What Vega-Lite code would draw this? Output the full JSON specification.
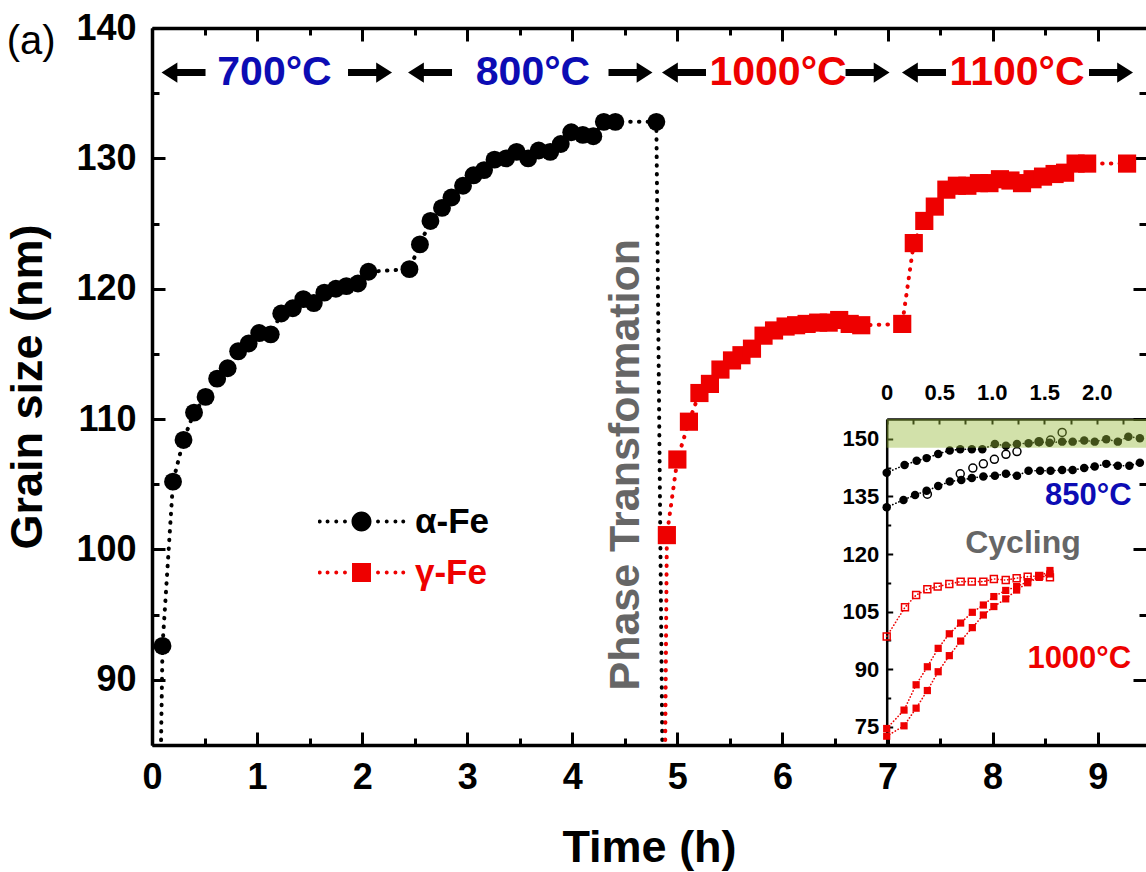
{
 "$schema": "https://vega.github.io/schema/vega-lite/v6.json",
 "width": 994, "height": 717,
 "autosize": "none",
 "padding": {"left": 152, "top": 28, "right": 0, "bottom": 127},
 "background": "white",
 "config": {
  "font": "Liberation Sans",
  "view": {"stroke": null},
  "axis": {"domainColor": "#000", "tickColor": "#000", "labelColor": "#000", "titleColor": "#000", "domainWidth": 3.5, "tickWidth": 3, "labelFont": "Liberation Sans", "labelFontWeight": "bold", "titleFont": "Liberation Sans", "titleFontWeight": "bold", "grid": false, "zindex": 1, "labelFlush": false, "labelOverlap": false, "labelBound": false}
 },
 "datasets": {
  "alpha": [
   {"time_h": 0.00, "size_nm": 40},
   {"time_h": 0.10, "size_nm": 92.6}, {"time_h": 0.20, "size_nm": 105.2}, {"time_h": 0.30, "size_nm": 108.4}, {"time_h": 0.40, "size_nm": 110.5},
   {"time_h": 0.51, "size_nm": 111.7}, {"time_h": 0.62, "size_nm": 113.1}, {"time_h": 0.72, "size_nm": 113.9}, {"time_h": 0.82, "size_nm": 115.2},
   {"time_h": 0.92, "size_nm": 115.8}, {"time_h": 1.02, "size_nm": 116.6}, {"time_h": 1.13, "size_nm": 116.5}, {"time_h": 1.23, "size_nm": 118.1},
   {"time_h": 1.34, "size_nm": 118.5}, {"time_h": 1.44, "size_nm": 119.2}, {"time_h": 1.54, "size_nm": 118.9}, {"time_h": 1.64, "size_nm": 119.7},
   {"time_h": 1.75, "size_nm": 120.0}, {"time_h": 1.85, "size_nm": 120.2}, {"time_h": 1.96, "size_nm": 120.4}, {"time_h": 2.06, "size_nm": 121.3},
   {"time_h": 2.45, "size_nm": 121.5}, {"time_h": 2.55, "size_nm": 123.4}, {"time_h": 2.65, "size_nm": 125.2}, {"time_h": 2.76, "size_nm": 126.2},
   {"time_h": 2.85, "size_nm": 127.0}, {"time_h": 2.96, "size_nm": 127.9}, {"time_h": 3.06, "size_nm": 128.7}, {"time_h": 3.16, "size_nm": 129.1},
   {"time_h": 3.26, "size_nm": 129.9}, {"time_h": 3.37, "size_nm": 130.0}, {"time_h": 3.47, "size_nm": 130.5}, {"time_h": 3.58, "size_nm": 130.0},
   {"time_h": 3.68, "size_nm": 130.6}, {"time_h": 3.79, "size_nm": 130.5}, {"time_h": 3.89, "size_nm": 131.1}, {"time_h": 3.99, "size_nm": 132.0},
   {"time_h": 4.10, "size_nm": 131.8}, {"time_h": 4.20, "size_nm": 131.7}, {"time_h": 4.30, "size_nm": 132.8}, {"time_h": 4.41, "size_nm": 132.8},
   {"time_h": 4.80, "size_nm": 132.8},
   {"time_h": 4.91, "size_nm": 40}
  ],
  "gamma": [
   {"time_h": 4.84, "size_nm": 40},
   {"time_h": 4.90, "size_nm": 101.1}, {"time_h": 5.00, "size_nm": 106.9}, {"time_h": 5.11, "size_nm": 109.8}, {"time_h": 5.21, "size_nm": 112.0},
   {"time_h": 5.31, "size_nm": 112.7}, {"time_h": 5.41, "size_nm": 113.8}, {"time_h": 5.52, "size_nm": 114.5}, {"time_h": 5.61, "size_nm": 114.9},
   {"time_h": 5.71, "size_nm": 115.4}, {"time_h": 5.82, "size_nm": 116.4}, {"time_h": 5.92, "size_nm": 116.8}, {"time_h": 6.03, "size_nm": 117.1},
   {"time_h": 6.13, "size_nm": 117.2}, {"time_h": 6.23, "size_nm": 117.3}, {"time_h": 6.34, "size_nm": 117.4}, {"time_h": 6.44, "size_nm": 117.4},
   {"time_h": 6.54, "size_nm": 117.6}, {"time_h": 6.64, "size_nm": 117.3}, {"time_h": 6.75, "size_nm": 117.2}, {"time_h": 7.14, "size_nm": 117.3},
   {"time_h": 7.25, "size_nm": 123.5}, {"time_h": 7.35, "size_nm": 125.2}, {"time_h": 7.45, "size_nm": 126.3}, {"time_h": 7.56, "size_nm": 127.6},
   {"time_h": 7.66, "size_nm": 127.9}, {"time_h": 7.76, "size_nm": 127.9}, {"time_h": 7.87, "size_nm": 128.1}, {"time_h": 7.97, "size_nm": 128.1},
   {"time_h": 8.07, "size_nm": 128.4}, {"time_h": 8.17, "size_nm": 128.3}, {"time_h": 8.28, "size_nm": 128.1}, {"time_h": 8.38, "size_nm": 128.4},
   {"time_h": 8.48, "size_nm": 128.6}, {"time_h": 8.59, "size_nm": 128.8}, {"time_h": 8.69, "size_nm": 128.9}, {"time_h": 8.79, "size_nm": 129.6},
   {"time_h": 8.90, "size_nm": 129.6}, {"time_h": 9.28, "size_nm": 129.6}
  ],
  "temps": [
   {"label": "700°C", "phase": "alpha", "time_h": 1.166, "size_nm": 136.55},
   {"label": "800°C", "phase": "alpha", "time_h": 3.626, "size_nm": 136.55},
   {"label": "1000°C", "phase": "gamma", "time_h": 5.958, "size_nm": 136.55},
   {"label": "1100°C", "phase": "gamma", "time_h": 8.233, "size_nm": 136.55}
  ],
  "arrows": [
   {"direction": "left", "time_h": 0.30, "size_nm": 136.58}, {"direction": "right", "time_h": 2.075, "size_nm": 136.58},
   {"direction": "left", "time_h": 2.646, "size_nm": 136.58}, {"direction": "right", "time_h": 4.554, "size_nm": 136.58},
   {"direction": "left", "time_h": 5.063, "size_nm": 136.58}, {"direction": "right", "time_h": 6.81, "size_nm": 136.58},
   {"direction": "left", "time_h": 7.347, "size_nm": 136.58}, {"direction": "right", "time_h": 9.127, "size_nm": 136.58}
  ],
  "notes": [
   {"label": "Phase Transformation", "kind": "phase", "time_h": 4.51, "size_nm": 106.5},
   {"label": "(a)", "kind": "panel", "time_h": -1.15, "size_nm": 138.9}
  ],
  "inset": [
   {"series": "a1", "time_h": 0, "size_nm": 141.2}, {"series": "a1", "time_h": 0.17, "size_nm": 143.2}, {"series": "a1", "time_h": 0.285, "size_nm": 144.3},
   {"series": "a1", "time_h": 0.38, "size_nm": 145.0}, {"series": "a1", "time_h": 0.49, "size_nm": 146.1}, {"series": "a1", "time_h": 0.60, "size_nm": 147.0},
   {"series": "a1", "time_h": 0.70, "size_nm": 147.3}, {"series": "a1", "time_h": 0.81, "size_nm": 147.3}, {"series": "a1", "time_h": 0.91, "size_nm": 147.3},
   {"series": "a1", "time_h": 1.03, "size_nm": 148.7}, {"series": "a1", "time_h": 1.135, "size_nm": 148.2}, {"series": "a1", "time_h": 1.24, "size_nm": 148.7},
   {"series": "a1", "time_h": 1.35, "size_nm": 148.9}, {"series": "a1", "time_h": 1.45, "size_nm": 149.2}, {"series": "a1", "time_h": 1.55, "size_nm": 149.0},
   {"series": "a1", "time_h": 1.67, "size_nm": 149.3}, {"series": "a1", "time_h": 1.77, "size_nm": 149.3}, {"series": "a1", "time_h": 1.88, "size_nm": 149.6},
   {"series": "a1", "time_h": 1.98, "size_nm": 149.3}, {"series": "a1", "time_h": 2.09, "size_nm": 149.9}, {"series": "a1", "time_h": 2.20, "size_nm": 149.3},
   {"series": "a1", "time_h": 2.30, "size_nm": 150.6}, {"series": "a1", "time_h": 2.41, "size_nm": 150.2},
   {"series": "a2", "time_h": 0, "size_nm": 132.2}, {"series": "a2", "time_h": 0.16, "size_nm": 134.1}, {"series": "a2", "time_h": 0.27, "size_nm": 135.4},
   {"series": "a2", "time_h": 0.38, "size_nm": 136.5}, {"series": "a2", "time_h": 0.49, "size_nm": 137.7}, {"series": "a2", "time_h": 0.60, "size_nm": 138.9},
   {"series": "a2", "time_h": 0.71, "size_nm": 139.3}, {"series": "a2", "time_h": 0.81, "size_nm": 139.8}, {"series": "a2", "time_h": 0.92, "size_nm": 140.2},
   {"series": "a2", "time_h": 1.03, "size_nm": 140.4}, {"series": "a2", "time_h": 1.135, "size_nm": 140.9}, {"series": "a2", "time_h": 1.24, "size_nm": 140.4},
   {"series": "a2", "time_h": 1.35, "size_nm": 141.7}, {"series": "a2", "time_h": 1.46, "size_nm": 141.7}, {"series": "a2", "time_h": 1.56, "size_nm": 141.7},
   {"series": "a2", "time_h": 1.67, "size_nm": 141.9}, {"series": "a2", "time_h": 1.77, "size_nm": 141.9}, {"series": "a2", "time_h": 1.88, "size_nm": 142.4},
   {"series": "a2", "time_h": 1.98, "size_nm": 142.8}, {"series": "a2", "time_h": 2.09, "size_nm": 143.5}, {"series": "a2", "time_h": 2.20, "size_nm": 143.0},
   {"series": "a2", "time_h": 2.31, "size_nm": 143.0}, {"series": "a2", "time_h": 2.41, "size_nm": 143.8},
   {"series": "ao", "time_h": 0.387, "size_nm": 135.6}, {"series": "ao", "time_h": 0.70, "size_nm": 140.9}, {"series": "ao", "time_h": 0.82, "size_nm": 142.4},
   {"series": "ao", "time_h": 0.92, "size_nm": 143.5}, {"series": "ao", "time_h": 1.025, "size_nm": 144.7}, {"series": "ao", "time_h": 1.135, "size_nm": 146.0},
   {"series": "ao", "time_h": 1.24, "size_nm": 146.7}, {"series": "ao", "time_h": 1.45, "size_nm": 149.3}, {"series": "ao", "time_h": 1.56, "size_nm": 149.7},
   {"series": "ao", "time_h": 1.67, "size_nm": 151.7},
   {"series": "go", "time_h": 0, "size_nm": 98.5}, {"series": "go", "time_h": 0.174, "size_nm": 106.1}, {"series": "go", "time_h": 0.28, "size_nm": 109.3},
   {"series": "go", "time_h": 0.387, "size_nm": 110.8}, {"series": "go", "time_h": 0.485, "size_nm": 111.5}, {"series": "go", "time_h": 0.596, "size_nm": 112.2},
   {"series": "go", "time_h": 0.704, "size_nm": 112.8}, {"series": "go", "time_h": 0.81, "size_nm": 112.8}, {"series": "go", "time_h": 0.92, "size_nm": 112.8},
   {"series": "go", "time_h": 1.02, "size_nm": 113.5}, {"series": "go", "time_h": 1.133, "size_nm": 113.2}, {"series": "go", "time_h": 1.237, "size_nm": 113.7},
   {"series": "go", "time_h": 1.342, "size_nm": 114.1}, {"series": "go", "time_h": 1.452, "size_nm": 114.3}, {"series": "go", "time_h": 1.554, "size_nm": 113.9},
   {"series": "g1", "time_h": 0, "size_nm": 74.5}, {"series": "g1", "time_h": 0.165, "size_nm": 79.3}, {"series": "g1", "time_h": 0.28, "size_nm": 85.9},
   {"series": "g1", "time_h": 0.387, "size_nm": 90.6}, {"series": "g1", "time_h": 0.49, "size_nm": 95.4}, {"series": "g1", "time_h": 0.596, "size_nm": 99.2},
   {"series": "g1", "time_h": 0.704, "size_nm": 102.0}, {"series": "g1", "time_h": 0.815, "size_nm": 104.8}, {"series": "g1", "time_h": 0.92, "size_nm": 106.7},
   {"series": "g1", "time_h": 1.02, "size_nm": 108.9}, {"series": "g1", "time_h": 1.133, "size_nm": 110.5}, {"series": "g1", "time_h": 1.237, "size_nm": 111.5},
   {"series": "g1", "time_h": 1.342, "size_nm": 112.8}, {"series": "g1", "time_h": 1.452, "size_nm": 114.1}, {"series": "g1", "time_h": 1.554, "size_nm": 115.7},
   {"series": "g2", "time_h": 0, "size_nm": 72.5}, {"series": "g2", "time_h": 0.165, "size_nm": 75.2}, {"series": "g2", "time_h": 0.28, "size_nm": 79.8},
   {"series": "g2", "time_h": 0.387, "size_nm": 84.4}, {"series": "g2", "time_h": 0.49, "size_nm": 89.3}, {"series": "g2", "time_h": 0.596, "size_nm": 93.5},
   {"series": "g2", "time_h": 0.704, "size_nm": 97.3}, {"series": "g2", "time_h": 0.815, "size_nm": 100.8}, {"series": "g2", "time_h": 0.92, "size_nm": 104.1},
   {"series": "g2", "time_h": 1.02, "size_nm": 106.3}, {"series": "g2", "time_h": 1.133, "size_nm": 108.3}, {"series": "g2", "time_h": 1.237, "size_nm": 110.6},
   {"series": "g2", "time_h": 1.342, "size_nm": 112.5}, {"series": "g2", "time_h": 1.452, "size_nm": 113.9}, {"series": "g2", "time_h": 1.554, "size_nm": 114.8}
  ],
  "insetText": [
   {"label": "850°C", "kind": "blue", "time_h": 1.919, "size_nm": 135.0},
   {"label": "Cycling", "kind": "gray", "time_h": 1.297, "size_nm": 122.8},
   {"label": "1000°C", "kind": "red", "time_h": 1.833, "size_nm": 92.65}
  ],
  "band": [{"band_low": 147.7, "band_high": 155.2}]
 },
 "resolve": {"scale": {"x": "independent", "y": "independent"}, "axis": {"x": "independent", "y": "independent"}},
 "layer": [
  {
   "data": {"name": "alpha"},
   "mark": {"type": "line", "clip": true, "color": "#000", "strokeWidth": 4, "strokeDash": [0.5, 8.2], "strokeCap": "round"},
   "encoding": {
    "x": {"field": "time_h", "type": "quantitative", "scale": {"domain": [0, 9.46], "nice": false, "zero": false},
          "axis": {"orient": "bottom", "values": [0,1,2,3,4,5,6,7,8,9], "format": "d", "tickSize": -13, "labelFontSize": 36, "labelPadding": 28, "title": "Time (h)", "titleFontSize": 45, "titlePadding": 30}},
    "y": {"field": "size_nm", "type": "quantitative", "scale": {"domain": [85, 140], "nice": false, "zero": false},
          "axis": {"orient": "left", "values": [90,100,110,120,130,140], "format": "d", "tickSize": -13, "labelFontSize": 36, "labelPadding": 29, "title": "Grain size (nm)", "titleFontSize": 45, "titlePadding": 25}}
   }
  },
  {
   "data": {"name": "gamma"},
   "mark": {"type": "line", "clip": true, "color": "#ee0000", "strokeWidth": 4, "strokeDash": [0.5, 8.2], "strokeCap": "round"},
   "encoding": {
    "x": {"field": "time_h", "type": "quantitative", "scale": {"domain": [0, 9.46], "nice": false, "zero": false},
          "axis": {"orient": "bottom", "values": [0.5,1.5,2.5,3.5,4.5,5.5,6.5,7.5,8.5], "tickSize": -7, "labels": false, "domain": false, "title": null}},
    "y": {"field": "size_nm", "type": "quantitative", "scale": {"domain": [85, 140], "nice": false, "zero": false},
          "axis": {"orient": "left", "values": [85,95,105,115,125,135], "tickSize": -7, "labels": false, "domain": false, "title": null}}
   }
  },
  {
   "data": {"name": "alpha"},
   "mark": {"type": "point", "shape": "circle", "filled": true, "clip": true, "color": "#000", "opacity": 1, "size": 320},
   "encoding": {
    "x": {"field": "time_h", "type": "quantitative", "scale": {"domain": [0, 9.46], "nice": false, "zero": false},
          "axis": {"orient": "top", "values": [0,1,2,3,4,5,6,7,8,9], "tickSize": -13, "labels": false, "title": null}},
    "y": {"field": "size_nm", "type": "quantitative", "scale": {"domain": [85, 140], "nice": false, "zero": false},
          "axis": {"orient": "right", "values": [90,100,110,120,130,140], "tickSize": -13, "labels": false, "domain": false, "title": null}}
   }
  },
  {
   "data": {"name": "gamma"},
   "mark": {"type": "point", "shape": "square", "filled": true, "clip": true, "color": "#ee0000", "opacity": 1, "size": 330},
   "encoding": {
    "x": {"field": "time_h", "type": "quantitative", "scale": {"domain": [0, 9.46], "nice": false, "zero": false},
          "axis": {"orient": "top", "values": [0.5,1.5,2.5,3.5,4.5,5.5,6.5,7.5,8.5], "tickSize": -7, "labels": false, "domain": false, "title": null}},
    "y": {"field": "size_nm", "type": "quantitative", "scale": {"domain": [85, 140], "nice": false, "zero": false},
          "axis": {"orient": "right", "values": [85,95,105,115,125,135], "tickSize": -7, "labels": false, "domain": false, "title": null}}
   }
  },
  {
   "data": {"name": "temps"},
   "transform": [{"filter": "datum.phase === 'alpha'"}],
   "mark": {"type": "text", "color": "#0c0cb4", "fontSize": 41, "fontWeight": "bold", "align": "center", "baseline": "middle"},
   "encoding": {
    "x": {"field": "time_h", "type": "quantitative", "scale": {"domain": [0, 9.46], "nice": false, "zero": false}, "axis": null},
    "y": {"field": "size_nm", "type": "quantitative", "scale": {"domain": [85, 140], "nice": false, "zero": false}, "axis": null},
    "text": {"field": "label"}
   }
  },
  {
   "data": {"name": "temps"},
   "transform": [{"filter": "datum.phase === 'gamma'"}],
   "mark": {"type": "text", "color": "#ee0000", "fontSize": 41, "fontWeight": "bold", "align": "center", "baseline": "middle"},
   "encoding": {
    "x": {"field": "time_h", "type": "quantitative", "scale": {"domain": [0, 9.46], "nice": false, "zero": false}, "axis": null},
    "y": {"field": "size_nm", "type": "quantitative", "scale": {"domain": [85, 140], "nice": false, "zero": false}, "axis": null},
    "text": {"field": "label"}
   }
  },
  {
   "data": {"name": "arrows"},
   "transform": [{"filter": "datum.direction === 'left'"}],
   "mark": {"type": "point", "shape": "M-1,0L-0.28,-0.46L-0.28,-0.16L1,-0.16L1,0.16L-0.28,0.16L-0.28,0.46Z", "size": 1936, "filled": true, "color": "#000", "opacity": 1, "strokeWidth": 0},
   "encoding": {
    "x": {"field": "time_h", "type": "quantitative", "scale": {"domain": [0, 9.46], "nice": false, "zero": false}, "axis": null},
    "y": {"field": "size_nm", "type": "quantitative", "scale": {"domain": [85, 140], "nice": false, "zero": false}, "axis": null}
   }
  },
  {
   "data": {"name": "arrows"},
   "transform": [{"filter": "datum.direction === 'right'"}],
   "mark": {"type": "point", "shape": "M1,0L0.28,-0.46L0.28,-0.16L-1,-0.16L-1,0.16L0.28,0.16L0.28,0.46Z", "size": 1936, "filled": true, "color": "#000", "opacity": 1, "strokeWidth": 0},
   "encoding": {
    "x": {"field": "time_h", "type": "quantitative", "scale": {"domain": [0, 9.46], "nice": false, "zero": false}, "axis": null},
    "y": {"field": "size_nm", "type": "quantitative", "scale": {"domain": [85, 140], "nice": false, "zero": false}, "axis": null}
   }
  },
  {
   "data": {"name": "notes"},
   "transform": [{"filter": "datum.kind === 'phase'"}],
   "mark": {"type": "text", "color": "#666666", "fontSize": 43, "fontWeight": "bold", "angle": 270, "align": "center", "baseline": "middle"},
   "encoding": {
    "x": {"field": "time_h", "type": "quantitative", "scale": {"domain": [0, 9.46], "nice": false, "zero": false}, "axis": null},
    "y": {"field": "size_nm", "type": "quantitative", "scale": {"domain": [85, 140], "nice": false, "zero": false}, "axis": null},
    "text": {"field": "label"}
   }
  },
  {
   "data": {"name": "notes"},
   "transform": [{"filter": "datum.kind === 'panel'"}],
   "mark": {"type": "text", "color": "#000", "fontSize": 40, "fontWeight": "normal", "align": "center", "baseline": "middle"},
   "encoding": {
    "x": {"field": "time_h", "type": "quantitative", "scale": {"domain": [0, 9.46], "nice": false, "zero": false}, "axis": null},
    "y": {"field": "size_nm", "type": "quantitative", "scale": {"domain": [85, 140], "nice": false, "zero": false}, "axis": null},
    "text": {"field": "label"}
   }
  },
  {
   "data": {"values": [{"phase": "α-Fe"}, {"phase": "γ-Fe"}]},
   "mark": {"type": "point", "filled": true, "opacity": 0},
   "encoding": {
    "color": {"field": "phase", "type": "nominal", "scale": {"domain": ["α-Fe", "γ-Fe"], "range": ["#000000", "#ee0000"]},
      "legend": {"orient": "none", "legendX": 166, "legendY": 468, "title": null, "direction": "vertical", "symbolSize": 7569, "symbolStrokeWidth": 0, "symbolOpacity": 1, "labelFontSize": 35, "labelFontWeight": "bold", "labelFont": "Liberation Sans", "labelOffset": 10, "rowPadding": 0, "clipHeight": 51, "padding": 0, "labelLimit": 0,
        "encode": {"labels": {"update": {"fill": {"signal": "datum.value === 'γ-Fe' ? '#ee0000' : '#000000'"}}}}}},
    "shape": {"field": "phase", "type": "nominal", "scale": {"domain": ["α-Fe", "γ-Fe"], "range": [
      "M-0.23,0A0.23,0.23,0,1,1,0.23,0A0.23,0.23,0,1,1,-0.23,0ZM-1.005,0A0.045,0.045,0,1,1,-0.915,0A0.045,0.045,0,1,1,-1.005,0ZM-0.825,0A0.045,0.045,0,1,1,-0.735,0A0.045,0.045,0,1,1,-0.825,0ZM-0.625,0A0.045,0.045,0,1,1,-0.535,0A0.045,0.045,0,1,1,-0.625,0ZM-0.425,0A0.045,0.045,0,1,1,-0.335,0A0.045,0.045,0,1,1,-0.425,0ZM0.335,0A0.045,0.045,0,1,1,0.425,0A0.045,0.045,0,1,1,0.335,0ZM0.535,0A0.045,0.045,0,1,1,0.625,0A0.045,0.045,0,1,1,0.535,0ZM0.735,0A0.045,0.045,0,1,1,0.825,0A0.045,0.045,0,1,1,0.735,0ZM0.915,0A0.045,0.045,0,1,1,1.005,0A0.045,0.045,0,1,1,0.915,0Z",
      "M-0.218,-0.218H0.218V0.218H-0.218ZM-1.005,0A0.045,0.045,0,1,1,-0.915,0A0.045,0.045,0,1,1,-1.005,0ZM-0.825,0A0.045,0.045,0,1,1,-0.735,0A0.045,0.045,0,1,1,-0.825,0ZM-0.625,0A0.045,0.045,0,1,1,-0.535,0A0.045,0.045,0,1,1,-0.625,0ZM-0.425,0A0.045,0.045,0,1,1,-0.335,0A0.045,0.045,0,1,1,-0.425,0ZM0.335,0A0.045,0.045,0,1,1,0.425,0A0.045,0.045,0,1,1,0.335,0ZM0.535,0A0.045,0.045,0,1,1,0.625,0A0.045,0.045,0,1,1,0.535,0ZM0.735,0A0.045,0.045,0,1,1,0.825,0A0.045,0.045,0,1,1,0.735,0ZM0.915,0A0.045,0.045,0,1,1,1.005,0A0.045,0.045,0,1,1,0.915,0Z"]},
      "legend": {"orient": "none", "legendX": 166, "legendY": 468, "title": null, "direction": "vertical", "symbolSize": 7569, "symbolStrokeWidth": 0, "symbolOpacity": 1, "labelFontSize": 35, "labelFontWeight": "bold", "labelFont": "Liberation Sans", "labelOffset": 10, "rowPadding": 0, "clipHeight": 51, "padding": 0, "labelLimit": 0}}
   }
  },
  {
   "data": {"name": "inset"},
   "transform": [{"filter": {"field": "series", "oneOf": ["a1", "a2"]}}],
   "mark": {"type": "line", "color": "#000", "strokeWidth": 1.6, "strokeDash": [0.3, 3], "strokeCap": "round"},
   "encoding": {
    "x": {"field": "time_h", "type": "quantitative", "scale": {"domain": [0, 2.473], "range": [734.7, 994.5], "nice": false, "zero": false}, "axis": null},
    "y": {"field": "size_nm", "type": "quantitative", "scale": {"domain": [70.2, 155.2], "range": [717, 391], "nice": false, "zero": false}, "axis": null},
    "detail": {"field": "series"}
   }
  },
  {
   "data": {"name": "inset"},
   "transform": [{"filter": {"field": "series", "oneOf": ["go", "g1", "g2"]}}],
   "mark": {"type": "line", "color": "#ee0000", "strokeWidth": 1.6, "strokeDash": [0.3, 3], "strokeCap": "round"},
   "encoding": {
    "x": {"field": "time_h", "type": "quantitative", "scale": {"domain": [0, 2.473], "range": [734.7, 994.5], "nice": false, "zero": false}, "axis": null},
    "y": {"field": "size_nm", "type": "quantitative", "scale": {"domain": [70.2, 155.2], "range": [717, 391], "nice": false, "zero": false}, "axis": null},
    "detail": {"field": "series"}
   }
  },
  {
   "data": {"name": "inset"},
   "transform": [{"filter": {"field": "series", "oneOf": ["a1", "a2"]}}],
   "mark": {"type": "point", "shape": "circle", "filled": true, "color": "#000", "opacity": 1, "size": 72},
   "encoding": {
    "x": {"field": "time_h", "type": "quantitative", "scale": {"domain": [0, 2.473], "range": [734.7, 994.5], "nice": false, "zero": false},
          "axis": {"orient": "top", "offset": -391, "values": [0, 0.5, 1, 1.5, 2], "labelExpr": "datum.value === 0 ? '0' : format(datum.value, '.1f')", "tickSize": -5, "tickWidth": 2, "domainWidth": 2.5, "labelFontSize": 22, "labelPadding": 20, "title": null}},
    "y": {"field": "size_nm", "type": "quantitative", "scale": {"domain": [70.2, 155.2], "range": [717, 391], "nice": false, "zero": false},
          "axis": {"orient": "left", "offset": -734.7, "values": [75, 90, 105, 120, 135, 150], "format": "d", "tickSize": -6, "tickWidth": 2, "domainWidth": 2.5, "labelFontSize": 22, "labelPadding": 14, "title": null}}
   }
  },
  {
   "data": {"name": "inset"},
   "transform": [{"filter": {"field": "series", "oneOf": ["ao"]}}],
   "mark": {"type": "point", "shape": "circle", "filled": false, "color": "#000", "opacity": 1, "size": 64, "strokeWidth": 1.5},
   "encoding": {
    "x": {"field": "time_h", "type": "quantitative", "scale": {"domain": [0, 2.473], "range": [734.7, 994.5], "nice": false, "zero": false},
          "axis": {"orient": "top", "offset": -391, "values": [0.25, 0.75, 1.25, 1.75, 2.25], "tickSize": -5, "tickWidth": 2, "labels": false, "domain": false, "title": null}},
    "y": {"field": "size_nm", "type": "quantitative", "scale": {"domain": [70.2, 155.2], "range": [717, 391], "nice": false, "zero": false},
          "axis": {"orient": "left", "offset": -734.7, "values": [82.5, 97.5, 112.5, 127.5, 142.5], "tickSize": -4, "tickWidth": 2, "labels": false, "domain": false, "title": null}}
   }
  },
  {
   "data": {"name": "inset"},
   "transform": [{"filter": {"field": "series", "oneOf": ["go"]}}],
   "mark": {"type": "point", "shape": "square", "filled": false, "color": "#ee0000", "opacity": 1, "size": 48, "strokeWidth": 1.5},
   "encoding": {
    "x": {"field": "time_h", "type": "quantitative", "scale": {"domain": [0, 2.473], "range": [734.7, 994.5], "nice": false, "zero": false}, "axis": null},
    "y": {"field": "size_nm", "type": "quantitative", "scale": {"domain": [70.2, 155.2], "range": [717, 391], "nice": false, "zero": false}, "axis": null}
   }
  },
  {
   "data": {"name": "inset"},
   "transform": [{"filter": {"field": "series", "oneOf": ["g1", "g2"]}}],
   "mark": {"type": "point", "shape": "square", "filled": true, "color": "#ee0000", "opacity": 1, "size": 52},
   "encoding": {
    "x": {"field": "time_h", "type": "quantitative", "scale": {"domain": [0, 2.473], "range": [734.7, 994.5], "nice": false, "zero": false}, "axis": null},
    "y": {"field": "size_nm", "type": "quantitative", "scale": {"domain": [70.2, 155.2], "range": [717, 391], "nice": false, "zero": false}, "axis": null}
   }
  },
  {
   "data": {"name": "insetText"},
   "transform": [{"filter": "datum.kind === 'blue'"}],
   "mark": {"type": "text", "color": "#0c0cb4", "fontSize": 31, "fontWeight": "bold", "align": "center", "baseline": "middle"},
   "encoding": {
    "x": {"field": "time_h", "type": "quantitative", "scale": {"domain": [0, 2.473], "range": [734.7, 994.5], "nice": false, "zero": false}, "axis": null},
    "y": {"field": "size_nm", "type": "quantitative", "scale": {"domain": [70.2, 155.2], "range": [717, 391], "nice": false, "zero": false}, "axis": null},
    "text": {"field": "label"}
   }
  },
  {
   "data": {"name": "insetText"},
   "transform": [{"filter": "datum.kind === 'gray'"}],
   "mark": {"type": "text", "color": "#666666", "fontSize": 32, "fontWeight": "bold", "align": "center", "baseline": "middle"},
   "encoding": {
    "x": {"field": "time_h", "type": "quantitative", "scale": {"domain": [0, 2.473], "range": [734.7, 994.5], "nice": false, "zero": false}, "axis": null},
    "y": {"field": "size_nm", "type": "quantitative", "scale": {"domain": [70.2, 155.2], "range": [717, 391], "nice": false, "zero": false}, "axis": null},
    "text": {"field": "label"}
   }
  },
  {
   "data": {"name": "insetText"},
   "transform": [{"filter": "datum.kind === 'red'"}],
   "mark": {"type": "text", "color": "#ee0000", "fontSize": 31, "fontWeight": "bold", "align": "center", "baseline": "middle"},
   "encoding": {
    "x": {"field": "time_h", "type": "quantitative", "scale": {"domain": [0, 2.473], "range": [734.7, 994.5], "nice": false, "zero": false}, "axis": null},
    "y": {"field": "size_nm", "type": "quantitative", "scale": {"domain": [70.2, 155.2], "range": [717, 391], "nice": false, "zero": false}, "axis": null},
    "text": {"field": "label"}
   }
  },
  {
   "data": {"name": "band"},
   "mark": {"type": "rect", "color": "#97ba3a", "opacity": 0.43},
   "encoding": {
    "x": {"datum": 0, "type": "quantitative", "scale": {"domain": [0, 2.473], "range": [734.7, 994.5], "nice": false, "zero": false}, "axis": null},
    "x2": {"datum": 2.473},
    "y": {"field": "band_low", "type": "quantitative", "scale": {"domain": [70.2, 155.2], "range": [717, 391], "nice": false, "zero": false}, "axis": null},
    "y2": {"field": "band_high"}
   }
  }
 ]
}
